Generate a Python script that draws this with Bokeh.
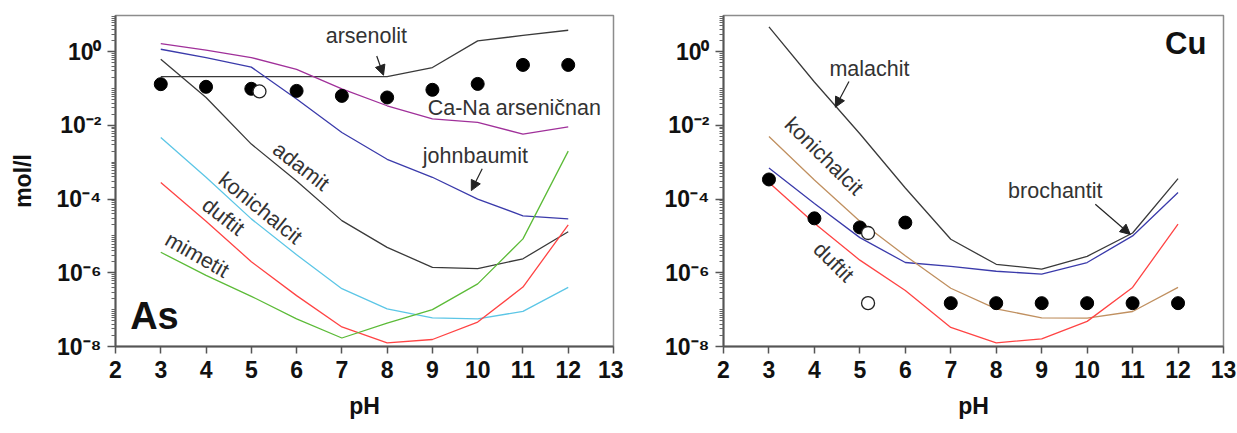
from bokeh.plotting import figure
from bokeh.layouts import row
from bokeh.models import (Range1d, FixedTicker, CustomJSTickFormatter, Arrow,
                          NormalHead, Label)
from bokeh.embed import file_html
from bokeh.resources import INLINE

# ---------------- data ----------------
ph = [3, 4, 5, 6, 7, 8, 9, 10, 11, 12]
x_ticks = [2, 3, 4, 5, 6, 7, 8, 9, 10, 11, 12, 13]
y_ticks = [1e-8, 1e-6, 1e-4, 1e-2, 1e0]

# As panel (mol/l)
as_measured = [0.131, 0.111, 0.098, 0.086, 0.063, 0.057, 0.092, 0.133, 0.436, 0.436]
as_open_ph = [5.18]
as_open = [0.083]
arsenolit = [0.21, 0.21, 0.21, 0.21, 0.21, 0.21, 0.37, 1.95, 2.75, 3.8]
ca_na_arsenicnan = [1.65, 1.10, 0.69, 0.33, 0.098, 0.034, 0.015, 0.012, 0.0058, 0.0091]
johnbaumit = [1.16, 0.69, 0.38, 0.052, 0.0064, 0.0012, 3.9e-4, 1.0e-4, 3.5e-5, 2.9e-5]
adamit = [0.62, 0.057, 0.0031, 3.1e-4, 2.6e-5, 4.9e-6, 1.4e-6, 1.3e-6, 2.4e-6, 1.3e-5]
konichalcit_as = [4.7e-3, 3.9e-4, 2.9e-5, 3.1e-6, 3.7e-7, 1.05e-7, 6.0e-8, 5.6e-8, 9.0e-8, 4.0e-7]
duftit_as = [2.8e-4, 2.5e-5, 2.0e-6, 2.4e-7, 3.4e-8, 1.26e-8, 1.55e-8, 4.6e-8, 4.1e-7, 2.0e-5]
mimetit = [3.6e-6, 8.5e-7, 2.3e-7, 5.6e-8, 1.7e-8, 4.3e-8, 1.0e-7, 5.0e-7, 8.3e-6, 2.0e-3]

# Cu panel (mol/l)
cu_measured = [3.4e-4, 3.0e-5, 1.7e-5, 2.3e-5, 1.5e-7, 1.5e-7, 1.5e-7, 1.5e-7, 1.5e-7, 1.5e-7]
cu_open_ph = [5.18, 5.18]
cu_open = [1.2e-5, 1.5e-7]
malachit = [4.7, 0.15, 0.0059, 2.0e-4, 8.1e-6, 1.7e-6, 1.26e-6, 2.8e-6, 1.2e-5, 3.6e-4]
brochantit = [7.0e-4, 7.6e-5, 9.0e-6, 1.9e-6, 1.5e-6, 1.1e-6, 9.2e-7, 1.9e-6, 1.0e-5, 1.5e-4]
konichalcit_cu = [5.0e-3, 3.3e-4, 2.5e-5, 2.9e-6, 3.8e-7, 1.05e-7, 6.0e-8, 5.9e-8, 8.9e-8, 4.0e-7]
duftit_cu = [2.8e-4, 2.2e-5, 2.2e-6, 3.3e-7, 3.3e-8, 1.26e-8, 1.6e-8, 4.8e-8, 4.0e-7, 2.1e-5]

FONT = "Liberation Sans"
INK = "#222222"

minor = [m * 10.0 ** k for k in range(-8, 1) for m in range(1, 10) if m > 1 or k % 2]

sup_formatter = CustomJSTickFormatter(code="""
const sup = {'-': '\u207b', '0': '\u2070', '1': '\u00b9', '2': '\u00b2', '3': '\u00b3',
             '4': '\u2074', '5': '\u2075', '6': '\u2076', '7': '\u2077', '8': '\u2078', '9': '\u2079'};
const e = Math.round(Math.log10(tick));
return '10' + String(e).split('').map(c => sup[c]).join('');
""")


def make_fig(width, left, right, ylabel):
    p = figure(width=width, height=433, x_range=Range1d(2, 13),
               y_range=Range1d(1e-8, 10 ** 0.98), y_axis_type="log",
               output_backend="svg", toolbar_location=None,
               min_border_left=left, min_border_right=right,
               min_border_top=15, min_border_bottom=87)
    p.grid.visible = False
    p.outline_line_color = "#8c8c8c"
    p.outline_line_width = 1.5
    p.background_fill_color = "white"
    p.border_fill_color = "white"

    for ax in (p.xaxis, p.yaxis):
        ax.axis_line_color = "#555555"
        ax.axis_line_width = 2
        ax.major_tick_line_color = "#555555"
        ax.major_tick_line_width = 1.5
        ax.minor_tick_line_color = "#666666"
        ax.major_tick_in = 0
        ax.minor_tick_in = 0
        ax.major_label_text_font = FONT
        ax.major_label_text_font_style = "bold"
        ax.major_label_text_font_size = "23px"
        ax.major_label_text_color = "#111111"
        ax.axis_label_text_font = FONT
        ax.axis_label_text_font_style = "bold"
        ax.axis_label_text_font_size = "23px"
        ax.axis_label_text_color = "#111111"

    p.xaxis.ticker = FixedTicker(ticks=x_ticks)
    p.xaxis.major_tick_out = 7
    p.xaxis.minor_tick_out = 0
    p.xaxis.major_label_standoff = 7
    p.xaxis.axis_label = "pH"
    p.xaxis.axis_label_standoff = 12

    p.yaxis.ticker = FixedTicker(ticks=y_ticks, minor_ticks=minor)
    p.yaxis.formatter = sup_formatter
    p.yaxis.major_tick_out = 8
    p.yaxis.minor_tick_out = 4
    p.yaxis.major_label_standoff = 6
    if ylabel:
        p.yaxis.axis_label = ylabel
        p.yaxis.axis_label_standoff = 18
    return p


def curve_label(p, x, y, text, angle=0.0, size="21.5px"):
    p.add_layout(Label(x=x, y=y, text=text, angle=angle, text_font=FONT,
                       text_font_size=size, text_color="#333333",
                       text_align="center", text_baseline="middle"))


def pointer(p, x0, y0, x1, y1):
    p.add_layout(Arrow(end=NormalHead(size=10, fill_color=INK, line_color=INK),
                       x_start=x0, y_start=y0, x_end=x1, y_end=y1,
                       line_color=INK, line_width=1.2))


# ---------------- As ----------------
p1 = make_fig(623, 115, 10, "mol/l")
p1.line(ph, arsenolit, line_color="#3a3a3a", line_width=1.3)
p1.line(ph, ca_na_arsenicnan, line_color="#a0309a", line_width=1.3)
p1.line(ph, johnbaumit, line_color="#3b3bab", line_width=1.3)
p1.line(ph, adamit, line_color="#3a3a3a", line_width=1.3)
p1.line(ph, konichalcit_as, line_color="#5cc6e6", line_width=1.3)
p1.line(ph, duftit_as, line_color="#ff4444", line_width=1.3)
p1.line(ph, mimetit, line_color="#5cbb38", line_width=1.3)
p1.scatter(ph, as_measured, size=13, fill_color="black", line_color="black")
p1.scatter(as_open_ph, as_open, size=13, fill_color="white", line_color=INK, line_width=1.3)

curve_label(p1, 7.54, 10 ** 0.42, "arsenolit")
pointer(p1, 7.77, 10 ** -0.12, 7.92, 10 ** -0.64)
curve_label(p1, 10.81, 10 ** -1.54, "Ca-Na arseničnan")
curve_label(p1, 9.95, 10 ** -2.83, "johnbaumit")
pointer(p1, 10.1, 10 ** -3.18, 9.86, 10 ** -3.77)
curve_label(p1, 6.1, 10 ** -3.12, "adamit", angle=-0.66)
curve_label(p1, 5.2, 10 ** -4.25, "konichalcit", angle=-0.68)
curve_label(p1, 4.38, 10 ** -4.48, "duftit", angle=-0.66)
curve_label(p1, 3.8, 10 ** -5.52, "mimetit", angle=-0.52)
p1.add_layout(Label(x=2.86, y=10 ** -7.16, text="As", text_font=FONT,
                    text_font_style="bold", text_font_size="38px",
                    text_color="#111111", text_align="center",
                    text_baseline="middle"))

# ---------------- Cu ----------------
p2 = make_fig(614, 100, 14, None)
p2.line(ph, malachit, line_color="#3a3a3a", line_width=1.3)
p2.line(ph, brochantit, line_color="#3b3bab", line_width=1.3)
p2.line(ph, konichalcit_cu, line_color="#c09060", line_width=1.3)
p2.line(ph, duftit_cu, line_color="#ff4444", line_width=1.3)
p2.scatter(ph, cu_measured, size=13, fill_color="black", line_color="black")
p2.scatter(cu_open_ph, cu_open, size=13, fill_color="white", line_color=INK, line_width=1.3)

curve_label(p2, 5.21, 10 ** -0.47, "malachit")
pointer(p2, 4.76, 10 ** -0.81, 4.46, 10 ** -1.51)
curve_label(p2, 4.21, 10 ** -2.84, "konichalcit", angle=-0.78)
curve_label(p2, 4.42, 10 ** -5.71, "duftit", angle=-0.78)
curve_label(p2, 9.3, 10 ** -3.77, "brochantit")
pointer(p2, 10.18, 10 ** -4.14, 10.95, 10 ** -4.96)
p2.add_layout(Label(x=12.17, y=10 ** 0.21, text="Cu", text_font=FONT,
                    text_font_style="bold", text_font_size="31px",
                    text_color="#111111", text_align="center",
                    text_baseline="middle"))

layout = row(p1, p2)
with open("out.html", "w", encoding="utf-8") as f:
    f.write(file_html(layout, INLINE))
